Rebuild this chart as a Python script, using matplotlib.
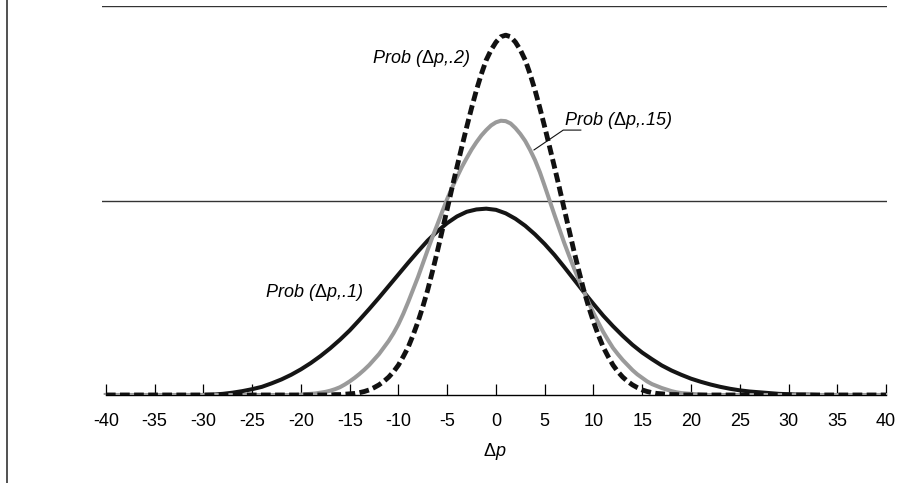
import numpy as np
import matplotlib
matplotlib.use("Agg")
import matplotlib.pyplot as plt
from matplotlib.lines import Line2D

plt.rcParams['font.family'] = ['Liberation Sans', 'DejaVu Sans']
plt.rcParams['mathtext.fontset'] = 'custom'
plt.rcParams['mathtext.rm'] = 'Liberation Sans'
plt.rcParams['mathtext.it'] = 'Liberation Sans:italic'

# Dane
# Prob(dp, .1): dp od -40 do 40 co 1
dp_full = np.arange(-40, 41)
prob_10 = [0, 0, 0, 0, 0, 0, 0, 0, 0, 0,
           0, 0.0001, 0.0003, 0.0006, 0.0010, 0.0015, 0.0021, 0.0030, 0.0040, 0.0052,
           0.0066, 0.0082, 0.0100, 0.0120, 0.0142, 0.0166, 0.0193, 0.0221, 0.0250, 0.0280,
           0.0310, 0.0340, 0.0369, 0.0397, 0.0421, 0.0442, 0.0459, 0.0471, 0.0477, 0.0479,
           0.0476, 0.0467, 0.0453, 0.0435, 0.0413, 0.0388, 0.0360, 0.0329, 0.0297, 0.0265,
           0.0234, 0.0204, 0.0177, 0.0152, 0.0129, 0.0109, 0.0092, 0.0076, 0.0063, 0.0052,
           0.0042, 0.0034, 0.0027, 0.0021, 0.0016, 0.0012, 0.0009, 0.0007, 0.0005, 0.0003,
           0.0002, 0.0001, 0.0001, 0, 0, 0, 0, 0, 0, 0, 0]

# Prob(dp, .15) i Prob(dp, .2): dp od -22 do 22 co 0.5 (poza tym zero)
dp_mid = np.arange(-22, 22.5, 0.5)
prob_15 = [0, 0, 0, 0, 0.0001, 0.0002, 0.0003, 0.0004, 0.0006, 0.0008,
           0.0011, 0.0015, 0.0020, 0.0027, 0.0035, 0.0044, 0.0054, 0.0065, 0.0077, 0.0091,
           0.0105, 0.0122, 0.0139, 0.0159, 0.0182, 0.0209, 0.0239, 0.0271, 0.0303, 0.0338,
           0.0373, 0.0407, 0.0439, 0.0472, 0.0504, 0.0533, 0.0560, 0.0586, 0.0609, 0.0631,
           0.0650, 0.0667, 0.0681, 0.0693, 0.0701, 0.0705, 0.0704, 0.0698, 0.0686, 0.0671,
           0.0653, 0.0630, 0.0604, 0.0573, 0.0537, 0.0500, 0.0463, 0.0427, 0.0391, 0.0358,
           0.0326, 0.0296, 0.0267, 0.0238, 0.0211, 0.0186, 0.0162, 0.0141, 0.0121, 0.0105,
           0.0090, 0.0077, 0.0064, 0.0053, 0.0044, 0.0035, 0.0028, 0.0023, 0.0018, 0.0014,
           0.0010, 0.0007, 0.0005, 0.0004, 0.0003, 0.0002, 0.0001, 0, 0]

prob_20 = [0, 0, 0, 0, 0, 0, 0, 0, 0, 0,
           0, 0.0001, 0.0001, 0.0002, 0.0003, 0.0004, 0.0006, 0.0009, 0.0013, 0.0019,
           0.0026, 0.0035, 0.0046, 0.0060, 0.0077, 0.0099, 0.0123, 0.0154, 0.0188, 0.0227,
           0.0270, 0.0319, 0.0370, 0.0424, 0.0478, 0.0533, 0.0586, 0.0638, 0.0689, 0.0738,
           0.0784, 0.0825, 0.0861, 0.0887, 0.0907, 0.0921, 0.0925, 0.0921, 0.0907, 0.0887,
           0.0861, 0.0825, 0.0784, 0.0738, 0.0689, 0.0638, 0.0586, 0.0533, 0.0478, 0.0424,
           0.0370, 0.0319, 0.0270, 0.0227, 0.0188, 0.0154, 0.0123, 0.0099, 0.0077, 0.0060,
           0.0046, 0.0035, 0.0026, 0.0019, 0.0013, 0.0009, 0.0006, 0.0004, 0.0003, 0.0002,
           0.0001, 0.0001, 0, 0, 0, 0, 0, 0, 0]

ticks = list(range(-40, 45, 5))
grid_y = [0.05, 0.10]


# Dopelnienie zerami do konca osi (-40 i 40)
def full_range(x, y):
    return np.concatenate(([-40], x, [40])), np.concatenate(([0], y, [0]))


def main():
    fig = plt.figure(figsize=(9.19, 4.83), dpi=100)
    ax = fig.add_axes([102/919, 88/483, 785/919, 389/483])

    for g in grid_y:
        ax.axhline(g, color='#333333', lw=1.0, zorder=1)

    ax.plot(dp_full, prob_10, color='#151515', lw=2.9, zorder=3)
    x15, y15 = full_range(dp_mid, prob_15)
    ax.plot(x15, y15, color='#9a9a9a', lw=2.9, zorder=4)
    x20, y20 = full_range(dp_mid, prob_20)
    ax.plot(x20, y20, color='#111111', lw=3.5, dashes=(2.0, 0.9),
            dash_capstyle='butt', zorder=5)

    ax.set_xlim(-40.4, 40.1)
    ax.set_ylim(0, 0.1)
    for s in ['top', 'right', 'left']:
        ax.spines[s].set_visible(False)
    ax.spines['bottom'].set_bounds(-40, 40)
    ax.spines['bottom'].set_linewidth(1.0)
    ax.set_yticks([])
    ax.set_xticks(ticks)
    ax.set_xticklabels([str(t) for t in ticks], fontsize=13)
    ax.tick_params(axis='x', direction='in', length=8, width=0.9, pad=13)
    ax.set_xlabel(r'$\Delta p$', fontsize=13, labelpad=8)

    # Etykiety krzywych
    ax.text(-12.7, 0.0853, r'Prob ($\Delta$p,.2)', fontsize=13, style='italic',
            ha='left', va='baseline')
    ax.text(7.0, 0.0694, r'Prob ($\Delta$p,.15)', fontsize=13, style='italic',
            ha='left', va='baseline')
    ax.text(-23.7, 0.0252, r'Prob ($\Delta$p,.1)', fontsize=13, style='italic',
            ha='left', va='baseline')
    ax.plot([3.9, 6.9, 8.7], [0.0630, 0.0681, 0.0681], color='#111111', lw=0.8, zorder=6)

    fig.add_artist(Line2D([7/919, 7/919], [0, 1], color='#333333', lw=1.2))

    fig.savefig('out.png', dpi=100)


if __name__ == "__main__":
    main()
